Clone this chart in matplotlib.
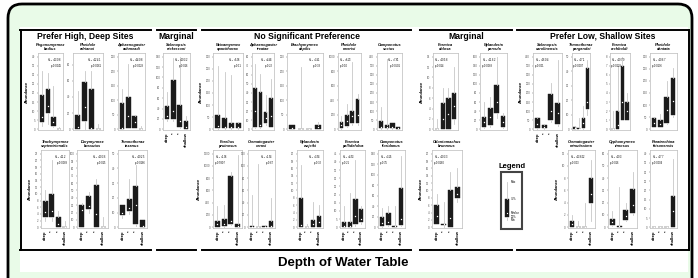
import numpy as np
import matplotlib
matplotlib.use('Agg')
import matplotlib.pyplot as plt
from matplotlib.patches import FancyBboxPatch, Rectangle

plt.rcParams['font.family'] = ['Liberation Sans', 'DejaVu Sans']

# ---- data ----
species = [
    'Pogonomyrmex\nbadius', 'Pheidole\nadrianoi', 'Aphaenogaster\nashmeadi',
    'Solenopsis\nnickersoni', 'Neivamyrmex\nopacithorax', 'Aphaenogaster\ntreatae',
    'Brachymyrmex\ndepilis', 'Pheidole\nmorrisi', 'Camponotus\nsocius',
    'Formica\ndolosa', 'Nylanderia\nparvula', 'Solenopsis\ncarolinensis',
    'Temnothorax\npergandei', 'Formica\narchboldi', 'Pheidole\ndentata',
    'Trachymyrmex\nseptentrionalis', 'Dorymyrmex\nbossutus', 'Temnothorax\ntexanus',
    'Forelius\npruinosus', 'Crematogaster\ncerasi', 'Nylanderia\nwojciki',
    'Formica\npallidefulva', 'Camponotus\nfloridanus', 'Odontomachus\nbrunneus',
    'Crematogaster\nminutissima', 'Cyphomyrmex\nrimosus', 'Paratrechina\nfaisonensis',
]
depth_labels = ['deep', '*', '*', 'shallow']

y_max = [40, 90, 250, 140, 300, 80, 250, 1000, 400, 14, 160, 400, 50, 8, 300,
         22, 100, 50, 1200, 120, 20, 45, 140, 20, 12, 60, 40]
y_step = [5, 20, 50, 20, 50, 10, 50, 200, 50, 2, 20, 50, 10, 1, 50,
          2, 10, 10, 200, 20, 2, 5, 20, 2, 2, 10, 5]

box_min = [[2, 3, 1, 0], [0, 0, 0, 0], [2, 3, 3, 0], [15, 15, 3, 0],
           [3, 3, 3, 3], [1, 1, 5, 2], [0, 0, 0, 0], [10, 30, 60, 60], [3, 3, 3, 0],
           [0, 0, 0, 1], [3, 5, 25, 3], [3, 3, 40, 20], [0, 0, 0, 10], [0, 0, 1, 1],
           [8, 8, 20, 50],
           [2, 2, 0, 0], [0, 20, 0, 0], [6, 9, 1, 0], [5, 10, 30, 0], [0, 0, 0, 0],
           [0, 0, 0, 0], [0, 0, 1, 2], [1, 3, 0, 3], [1, 0, 0, 7], [0, 0, 0, 1],
           [1, 0, 5, 10], [0, 0, 0, 0]]
box_q1 = [[4, 9, 2, 0], [0, 10, 0, 0], [2, 5, 5, 0], [20, 20, 5, 0],
          [5, 5, 5, 5], [2, 2, 7, 3], [0, 0, 0, 0], [20, 50, 80, 80], [5, 5, 5, 0],
          [0, 0, 0, 2], [5, 10, 35, 5], [5, 5, 50, 30], [0, 0, 1, 14], [0, 0, 1, 1],
          [10, 10, 25, 60],
          [3, 3, 0, 0], [0, 25, 0, 0], [8, 11, 2, 0], [10, 20, 50, 0], [0, 0, 0, 0],
          [0, 0, 0, 0], [0, 0, 2, 3], [2, 5, 0, 5], [1, 0.5, 0, 8], [0, 0, 0, 4],
          [2, 0.5, 6, 12], [0, 0, 0, 0]]
box_med = [[7, 13, 4, 0], [3, 27, 2, 0], [5, 45, 25, 0], [25, 35, 15, 5],
           [15, 10, 10, 10], [20, 5, 12, 15], [5, 0, 0, 8], [60, 110, 180, 200],
           [15, 10, 15, 5],
           [0, 2, 3, 4.5], [15, 28, 60, 15], [30, 15, 100, 90], [1, 0.5, 4, 19],
           [0, 0.5, 3, 2], [25, 20, 80, 115],
           [4.5, 5, 1, 0], [24, 29, 18, 0], [10, 13, 15, 1], [50, 60, 100, 20],
           [1, 0, 1, 2], [0.5, 0, 1, 1.5], [1, 1, 7, 5], [8, 10, 2, 15],
           [3, 0.8, 2.5, 9], [0.5, 0, 0, 5.5], [4, 1, 9, 18], [0, 0, 0, 9]]
box_q3 = [[19, 22, 7, 0], [18, 59, 50, 0], [90, 110, 45, 0], [45, 95, 47, 15],
          [60, 45, 25, 25], [45, 41, 19, 34], [15, 0, 0, 15], [100, 200, 250, 410],
          [45, 25, 35, 10],
          [0, 5, 6, 7], [28, 47, 97, 30], [60, 25, 195, 145], [1.5, 1, 8, 42],
          [0, 2, 7, 3], [45, 40, 135, 210],
          [8, 10, 3, 0], [30, 42, 57, 0], [15, 19, 28, 5], [100, 140, 830, 60],
          [2, 0, 2, 10], [8, 0, 2, 3], [3, 3, 17, 11], [20, 27, 3, 75],
          [6, 1, 10, 11], [1, 0, 0, 8], [7, 1, 14, 31], [0, 0, 0, 17]]
box_max = [[32, 31, 24, 1], [47, 72, 72, 7], [140, 225, 50, 10], [72, 138, 140, 25],
           [260, 235, 225, 30], [72, 61, 38, 55], [15, 215, 3, 25], [180, 350, 920, 480],
           [120, 385, 35, 10],
           [2, 8, 8, 12], [60, 72, 160, 35], [65, 30, 255, 380], [2, 8, 16, 48],
           [2, 7, 8, 4], [50, 65, 200, 255],
           [11, 20, 5, 2], [33, 48, 65, 14], [15, 33, 42, 5], [340, 360, 900, 1180],
           [53, 103, 3, 48], [17, 1, 7, 6], [13, 21, 41, 13], [36, 40, 40, 135],
           [9, 7, 15, 16], [2, 1, 4, 11], [13, 33, 20, 45], [0, 0, 0, 37]]

h_stat = ['13.08', '12.41', '14.08', '10.32', '5.96', '4.44', '3.41', '6.23', '7.81',
          '10.58', '11.62', '16.04', '17.1', '10.79', '10.67',
          '11.2', '10.36', '10.25', '1.96', '1.54', '3.54', '4.53', '3.25',
          '10.33', '138.12', '10.3', '17.7']
p_val = ['0.0045', '0.0061', '0.0028', '0.016', '0.11', '0.22', '0.33', '0.10',
         '0.0501', '0.014', '0.0088', '0.001', '0.0007', '0.0129', '0.0136',
         '0.0089', '0.015', '0.0166', '0.5807', '0.67', '0.32', '0.21', '0.35',
         '0.0160', '0.003', '0.016', '0.0004']

legend_stat = [1, 2, 3, 7, 12]   # min, 25%, median, 75%, max of the schematic box
legend_text = ['Max', '75%', 'Median', '25%', 'Min']

# ---- layout (pixels) ----
W, H = 698, 278
rows = [(53, 130), (150, 228)]
layout = [(38, 63, 0, 'r'), (73, 103, 0, 'r'), (118, 145, 0, 'r'), (163, 190, 0, 'r'),
          (213, 243, 0, 'r'), (252, 274, 0, 'r'), (287, 323, 0, 'r'), (338, 361, 0, 'l'),
          (377, 402, 0, 'r'), (433, 458, 0, 'l'), (480, 507, 0, 'l'), (533, 562, 0, 'l'),
          (572, 590, 0, 'l'), (610, 630, 0, 'l'), (650, 677, 0, 'l'),
          (41, 69, 1, 'r'), (77, 108, 1, 'r'), (118, 147, 1, 'r'), (213, 242, 1, 'l'),
          (248, 275, 1, 'r'), (297, 323, 1, 'r'), (340, 365, 1, 'l'), (378, 405, 1, 'l'),
          (432, 462, 1, 'l'), (568, 595, 1, 'l'), (608, 637, 1, 'l'), (650, 677, 1, 'l')]
with_xlabels = {3, 11, 15, 16, 17, 18, 19, 20, 21, 22, 23, 24, 25, 26}
with_ylabel = {0, 4, 9, 11, 15, 18, 23, 24}


def rect(x0, y0, x1, y1):
    return [x0 / W, 1 - y1 / H, (x1 - x0) / W, (y1 - y0) / H]


fig = plt.figure(figsize=(W / 100, H / 100), dpi=100)
fig.patch.set_facecolor('white')

# background frame drawn in pixel coordinates
bg = fig.add_axes([0, 0, 1, 1])
bg.set_xlim(0, W)
bg.set_ylim(H, 0)
bg.axis('off')
bg.add_patch(FancyBboxPatch((8, 4), 684, 300, boxstyle='round,pad=0,rounding_size=14',
                            facecolor='#e9fbe8', edgecolor='black', lw=2))
bg.add_patch(Rectangle((20, 27), 668, 245, facecolor='white', edgecolor='none'))

groups = [(20, 151, 'Prefer High, Deep Sites'), (157, 196, 'Marginal'),
          (202, 411, 'No Significant Preference'), (420, 512, 'Marginal'),
          (517, 689, 'Prefer Low, Shallow Sites')]
for gx0, gx1, label in groups:
    bg.plot([gx0, gx1], [29.5, 29.5], color='black', lw=1.4)
    bg.plot([gx0, gx1], [250, 250], color='black', lw=1.4)
    bg.text((gx0 + gx1) / 2, 36.5, label, ha='center', va='center',
            fontsize=6.2, fontweight='bold')
bg.plot([21, 21], [29.5, 250], color='black', lw=1.4)
bg.plot([689, 689], [29.5, 250], color='black', lw=1.4)
bg.text(343, 263, 'Depth of Water Table', ha='center', va='center',
        fontsize=9.5, fontweight='bold')

# legend
bg.text(512, 167, 'Legend', ha='center', va='center', fontsize=5.5, fontweight='bold')
bg.add_patch(Rectangle((501, 172), 21, 57, facecolor='white', edgecolor='#444444', lw=1.5))
lax = fig.add_axes(rect(503, 180, 520, 222))
lax.bxp([dict(whislo=legend_stat[0], q1=legend_stat[1], med=legend_stat[2],
              q3=legend_stat[3], whishi=legend_stat[4], fliers=[])],
        positions=[1], widths=0.5, patch_artist=True, showcaps=False,
        boxprops=dict(facecolor='#1b1b1b', edgecolor='#1b1b1b', lw=0.3),
        whiskerprops=dict(color='#c8c8c8', lw=0.6), medianprops=dict(lw=0))
lax.plot([1], [legend_stat[2]], 's', ms=0.8, mew=0, color='white')
for val, txt in zip(legend_stat[::-1], legend_text):
    lax.text(1.45, val, txt, fontsize=2, va='center', ha='left')
lax.set_xlim(0.5, 2.6)
lax.set_ylim(0.5, 12.5)
lax.axis('off')

for i, name in enumerate(species):
    x0, x1, row, hp_side = layout[i]
    y0, y1 = rows[row]
    ax = fig.add_axes(rect(x0, y0, x1, y1))
    stats = [dict(whislo=box_min[i][k], q1=box_q1[i][k], med=box_med[i][k],
                  q3=box_q3[i][k], whishi=box_max[i][k], fliers=[]) for k in range(4)]
    ax.bxp(stats, positions=[1, 2, 3, 4], widths=0.72, patch_artist=True, showcaps=False,
           boxprops=dict(facecolor='#1b1b1b', edgecolor='#1b1b1b', lw=0.3),
           whiskerprops=dict(color='#c8c8c8', lw=0.6), medianprops=dict(lw=0))
    ax.plot([1, 2, 3, 4], box_med[i], 's', ms=0.9, mew=0, color='white', lw=0)
    ax.set_xlim(0.35, 4.65)
    ax.set_ylim(-y_max[i] * 0.01, y_max[i] * 1.05)
    ax.set_yticks(np.arange(0, y_max[i] + y_step[i] / 2, y_step[i]))
    ax.tick_params(axis='y', labelsize=2, length=1, width=0.3, pad=1, colors='#555555')
    for s in ax.spines.values():
        s.set_color('#bbbbbb')
        s.set_linewidth(0.5)
    if i in with_xlabels:
        ax.set_xticks([1, 2, 3, 4])
        ax.set_xticklabels(depth_labels, rotation=90, fontsize=3, fontweight='bold')
        ax.tick_params(axis='x', length=0, pad=1.5)
    else:
        ax.set_xticks([])
    ax.set_title(name, fontsize=2.8, fontstyle='italic', fontweight='bold', pad=2,
                 linespacing=1.1)
    if i in with_ylabel:
        ax.set_ylabel('Abundance', fontsize=3, fontweight='bold', labelpad=2)
    hx, ha = (0.95, 'right') if hp_side == 'r' else (0.06, 'left')
    ax.text(hx, 0.96, f'H$_{{3,n}}$={h_stat[i]}\np={p_val[i]}', transform=ax.transAxes,
            ha=ha, va='top', fontsize=1.8)

fig.savefig('out.png', dpi=100)
